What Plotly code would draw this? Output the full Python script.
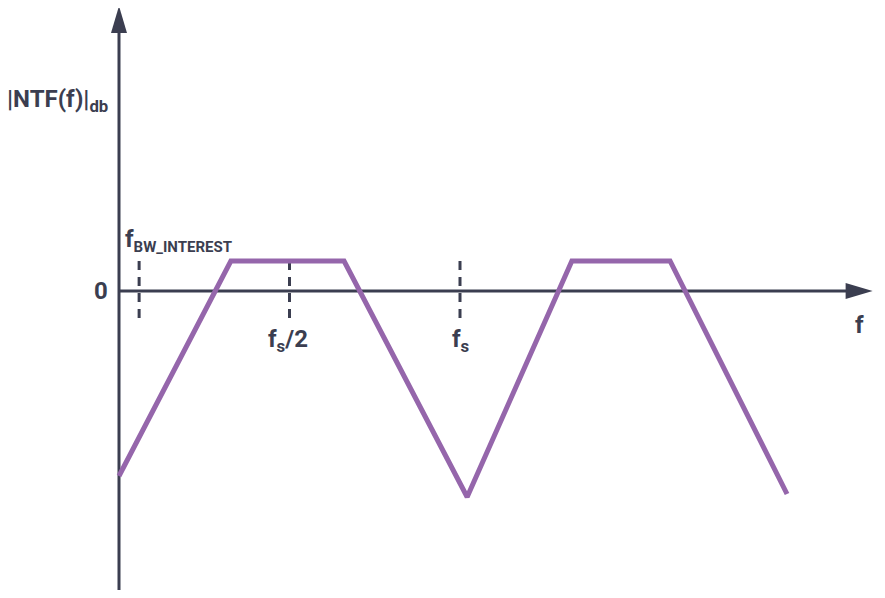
import plotly.graph_objects as go

# noise transfer function sketch (f in units of fs, level in arbitrary dB)
ntf_f = [0.0, 0.328, 0.66, 1.021, 1.328, 1.616, 1.959]
ntf_db = [-18.5, 3.0, 3.0, -20.6, 3.0, 3.0, -20.3]

# dashed frequency markers
marker_f = [0.059, 0.5, 1.0]
marker_top = 3.0
marker_bottom = -2.8

# axis extents
x_axis_end = 2.21
y_axis_bottom = -29.9
y_axis_top = 28.5

axis_color = '#3b3e50'
purple = '#9566ab'
font = dict(family='Roboto', size=24, color=axis_color, weight='bold')

fig = go.Figure()

# axes lines
fig.add_trace(go.Scatter(
    x=[0, 0], y=[y_axis_bottom, y_axis_top - 2.7],
    mode='lines', line=dict(color=axis_color, width=3),
    hoverinfo='skip', showlegend=False
))
fig.add_trace(go.Scatter(
    x=[0, x_axis_end - 0.076], y=[0, 0],
    mode='lines', line=dict(color=axis_color, width=3),
    hoverinfo='skip', showlegend=False
))

# dashed markers
for f in marker_f:
    fig.add_trace(go.Scatter(
        x=[f, f], y=[marker_top, marker_bottom],
        mode='lines', line=dict(color=axis_color, width=3, dash='9px,7px'),
        hoverinfo='skip', showlegend=False
    ))

# NTF curve
fig.add_trace(go.Scatter(
    x=ntf_f, y=ntf_db,
    mode='lines', line=dict(color=purple, width=5),
    hoverinfo='skip', showlegend=False
))

# arrowheads (pixel-sized, anchored at axis tips)
fig.add_shape(type='path', xref='x', yref='y',
              xsizemode='pixel', ysizemode='pixel',
              xanchor=0, yanchor=y_axis_top,
              path='M-8,-27 L8,-27 L0,0 Z',
              fillcolor=axis_color, line=dict(width=0))
fig.add_shape(type='path', xref='x', yref='y',
              xsizemode='pixel', ysizemode='pixel',
              xanchor=x_axis_end, yanchor=0,
              path='M-27,-8 L-27,8 L0,0 Z',
              fillcolor=axis_color, line=dict(width=0))

labels = [
    ('|NTF(f)|<sub>db</sub>', -0.026, 19.1, 'right'),
    ('f<sub><span style="font-size:15px">BW_INTEREST</span></sub>', 0.012, 5.1, 'left'),
    ('f<sub>s</sub>/2', 0.495, -4.9, 'center'),
    ('f<sub>s</sub>', 1.0, -4.9, 'center'),
    ('0', -0.053, 0, 'center'),
    ('f', 2.173, -3.4, 'center'),
]
for text, x, y, anchor in labels:
    fig.add_annotation(x=x, y=y, text=text, showarrow=False,
                       xanchor=anchor, yanchor='middle', font=font)

fig.update_layout(
    width=885, height=598,
    margin=dict(l=0, r=0, t=0, b=0),
    paper_bgcolor='white', plot_bgcolor='white',
    xaxis=dict(range=[-111 / 341, 774 / 341], visible=False, fixedrange=True),
    yaxis=dict(range=[-31.5, 28.3], visible=False, fixedrange=True),
)

fig.write_html('out.html')
